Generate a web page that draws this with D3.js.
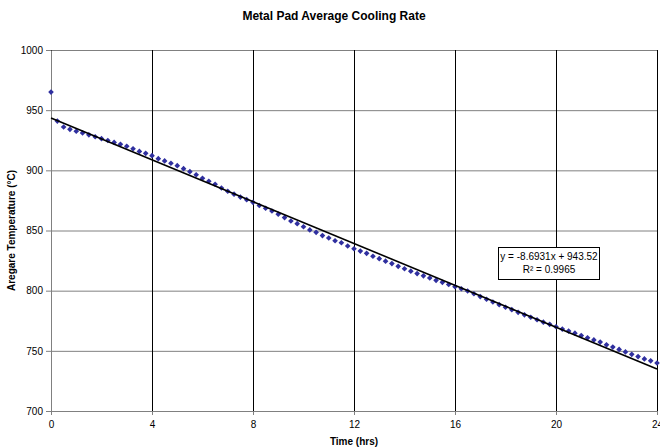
<!DOCTYPE html>
<html>
<head>
<meta charset="utf-8">
<script src="https://cdn.jsdelivr.net/npm/d3@7"></script>
<style>
  body { margin: 0; background: #fff; }
  text { font-family: "Liberation Sans", Arial, sans-serif; }
</style>
</head>
<body>
<div id="chart"></div>
<script>
// time in hours, one reading every quarter hour
const hours = [
  0, 0.25, 0.5, 0.75, 1, 1.25, 1.5, 1.75, 2, 2.25, 2.5, 2.75, 3, 3.25, 3.5, 3.75,
  4, 4.25, 4.5, 4.75, 5, 5.25, 5.5, 5.75, 6, 6.25, 6.5, 6.75, 7, 7.25, 7.5, 7.75,
  8, 8.25, 8.5, 8.75, 9, 9.25, 9.5, 9.75, 10, 10.25, 10.5, 10.75, 11, 11.25, 11.5, 11.75,
  12, 12.25, 12.5, 12.75, 13, 13.25, 13.5, 13.75, 14, 14.25, 14.5, 14.75, 15, 15.25, 15.5, 15.75,
  16, 16.25, 16.5, 16.75, 17, 17.25, 17.5, 17.75, 18, 18.25, 18.5, 18.75, 19, 19.25, 19.5, 19.75,
  20, 20.25, 20.5, 20.75, 21, 21.25, 21.5, 21.75, 22, 22.25, 22.5, 22.75, 23, 23.25, 23.5, 23.75,
  24
];

// average temperature (°C)
const temps = [
  965.0, 940.9, 936.0, 934.1, 932.5, 931.1, 929.5, 927.9, 926.3, 924.8, 923.2, 921.7, 920.0, 917.9, 915.7, 914.1,
  912.2, 909.7, 907.8, 905.9, 903.9, 901.4, 898.9, 896.3, 893.4, 890.9, 888.4, 885.3, 882.6, 880.2, 877.8, 875.6,
  873.4, 870.8, 868.5, 866.2, 863.6, 860.7, 857.9, 855.7, 853.1, 850.5, 848.5, 845.8, 843.8, 841.5, 839.8, 837.1,
  834.8, 832.9, 831.0, 828.6, 826.6, 824.5, 822.5, 820.2, 818.2, 816.2, 814.2, 812.3, 810.5, 808.6, 806.9, 805.1,
  803.3, 801.6, 799.7, 797.4, 795.1, 792.9, 790.6, 788.4, 786.2, 784.2, 782.0, 779.9, 777.9, 775.8, 773.8, 772.0,
  770.0, 768.1, 766.4, 764.7, 762.7, 760.8, 759.1, 757.3, 755.0, 753.1, 751.2, 749.1, 747.1, 745.2, 743.3, 741.7,
  739.9
];

// linear trendline as printed on the chart
const trendSlope = -8.6931;
const trendIntercept = 943.52;
const trendLabel = ["y = -8.6931x + 943.52", "R² = 0.9965"];

const xTicks = [0, 4, 8, 12, 16, 20, 24];
const yTicks = [700, 750, 800, 850, 900, 950, 1000];

const W = 660, H = 447;
const margin = { top: 50, right: 3, bottom: 36, left: 51 };
const width = W - margin.left - margin.right;
const height = H - margin.top - margin.bottom;

const svg = d3.select("#chart").append("svg")
  .attr("width", W)
  .attr("height", H);

const g = svg.append("g")
  .attr("transform", `translate(${margin.left},${margin.top})`);

const x = d3.scaleLinear().domain([0, 24]).range([0, width]);
const y = d3.scaleLinear().domain([700, 1000]).range([height, 0]);

// horizontal gridlines (grey)
g.append("g")
  .call(d3.axisLeft(y).tickValues(yTicks).tickSize(-width).tickFormat(""))
  .call(s => s.select(".domain").remove())
  .selectAll("line").attr("stroke", "#808080");

// vertical gridlines (black)
g.append("g")
  .attr("transform", `translate(0,${height})`)
  .call(d3.axisBottom(x).tickValues(xTicks).tickSize(height).tickSizeOuter(0).tickFormat(""))
  .call(s => s.select(".domain").remove())
  .selectAll("line").attr("transform", `translate(0,${-height})`).attr("stroke", "#000");

// axes
const yAxis = g.append("g")
  .call(d3.axisLeft(y).tickValues(yTicks).tickFormat(d3.format("d"))
    .tickSize(5).tickSizeOuter(0).tickPadding(3));
yAxis.select(".domain").attr("stroke", "#808080");
yAxis.selectAll("line").attr("stroke", "#808080");
yAxis.selectAll("text").attr("font-size", 10).attr("fill", "#000");

const xAxis = g.append("g")
  .attr("transform", `translate(0,${height})`)
  .call(d3.axisBottom(x).tickValues(xTicks).tickSize(4).tickSizeOuter(0).tickPadding(6));
xAxis.select(".domain").attr("stroke", "#808080");
xAxis.selectAll("line").attr("stroke", "#808080");
xAxis.selectAll("text").attr("font-size", 10).attr("fill", "#000");

svg.selectAll(".tick text").attr("font-family", "Liberation Sans, Arial, sans-serif");

// data markers
const diamond = d3.symbol().type(d3.symbolSquare).size(16);
g.selectAll(".pt")
  .data(hours.map((h, i) => ({ h, t: temps[i] })))
  .enter().append("path")
  .attr("class", "pt")
  .attr("d", diamond)
  .attr("transform", d => `translate(${x(d.h)},${y(d.t)}) rotate(45)`)
  .attr("fill", "#2f2f9f");

// trendline
const trend = [0, 24].map(h => ({ h, t: trendIntercept + trendSlope * h }));
g.append("path")
  .datum(trend)
  .attr("fill", "none")
  .attr("stroke", "#000")
  .attr("stroke-width", 1.6)
  .attr("d", d3.line().x(d => x(d.h)).y(d => y(d.t)));

// trendline equation box
const box = svg.append("g").attr("transform", "translate(498.5,247.5)");
box.append("rect")
  .attr("width", 101)
  .attr("height", 32)
  .attr("fill", "#fff")
  .attr("stroke", "#000");
box.selectAll("text")
  .data(trendLabel)
  .enter().append("text")
  .attr("x", 50.5)
  .attr("y", (d, i) => 12 + i * 13.5)
  .attr("text-anchor", "middle")
  .attr("font-size", 10)
  .text(d => d);

// titles
svg.append("text")
  .attr("x", 334)
  .attr("y", 20)
  .attr("text-anchor", "middle")
  .attr("font-size", 12)
  .attr("font-weight", "bold")
  .text("Metal Pad Average Cooling Rate");

svg.append("text")
  .attr("x", margin.left + width / 2)
  .attr("y", 445)
  .attr("text-anchor", "middle")
  .attr("font-size", 10)
  .attr("font-weight", "bold")
  .text("Time (hrs)");

svg.append("text")
  .attr("transform", `translate(15,${margin.top + height / 2}) rotate(-90)`)
  .attr("text-anchor", "middle")
  .attr("font-size", 10)
  .attr("font-weight", "bold")
  .text("Aregare Temperature (°C)");
</script>
</body>
</html>
